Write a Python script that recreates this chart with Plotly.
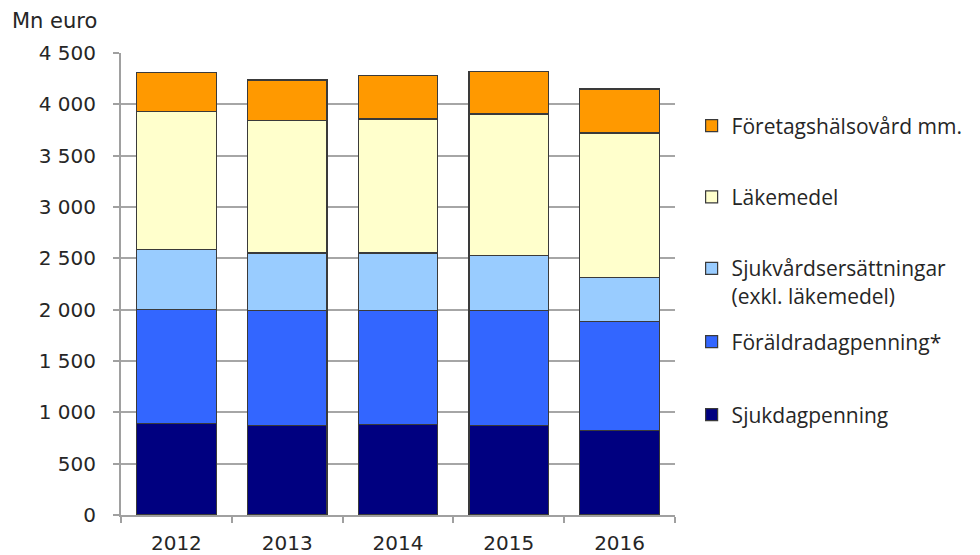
import plotly.graph_objects as go

years = ["2012", "2013", "2014", "2015", "2016"]
sjukdagpenning = [895, 869, 879, 869, 823]
foraldradagpenning = [1105, 1123, 1113, 1123, 1059]
sjukvardsersattningar = [585, 560, 560, 534, 429]
lakemedel = [1347, 1293, 1305, 1380, 1410]
foretagshalsovard = [381, 393, 423, 417, 429]

series = [
    ("Sjukdagpenning", sjukdagpenning, "#000080"),
    ("Föräldradagpenning*", foraldradagpenning, "#3366FF"),
    ("Sjukvårdsersättningar<br>(exkl. läkemedel)", sjukvardsersattningar, "#99CCFF"),
    ("Läkemedel", lakemedel, "#FFFFCC"),
    ("Företagshälsovård mm.", foretagshalsovard, "#FF9900"),
]

# legend y (paper) for each series, bottom to top
legend_y = [0.2165, 0.3745, 0.504, 0.688, 0.842]

fig = go.Figure()
for i, (name, vals, col) in enumerate(series):
    lg = "legend" if i == 0 else f"legend{i+1}"
    fig.add_trace(go.Bar(
        x=years, y=vals, name=name, legend=lg, showlegend=True,
        marker=dict(color=col, line=dict(color="#3a3a3a", width=1.2)),
    ))

legend_font = dict(family="Open Sans, Lato, sans-serif", size=21, color="#262626")
layout_legends = {}
for i, ly in enumerate(legend_y):
    key = "legend" if i == 0 else f"legend{i+1}"
    layout_legends[key] = dict(
        x=1.03, xanchor="left", y=ly, yanchor="middle",
        font=legend_font, bgcolor="rgba(0,0,0,0)", valign="top",
        itemclick=False,
    )

fig.update_layout(
    width=980, height=555,
    margin=dict(l=113, r=313, t=45, b=48),
    barmode="stack", bargap=0.28,
    plot_bgcolor="white", paper_bgcolor="white",
    separators=", ", showlegend=True,
    font=dict(family="Liberation Sans, Arial, sans-serif", color="#262626"),
    **layout_legends,
)
fig.update_yaxes(
    range=[0, 4500], dtick=500, tickformat=",d",
    showgrid=True, gridcolor="#a6a6a6", gridwidth=1.5,
    showline=True, linecolor="#a0a0a0", linewidth=2,
    ticks="outside", ticklen=6, tickcolor="#a0a0a0", tickwidth=1.5,
    tickfont=dict(size=20, family="DejaVu Sans, sans-serif", color="#262626"),
    ticklabelstandoff=13, zeroline=False, automargin=False,
)
fig.update_xaxes(
    showline=True, linecolor="#a0a0a0", linewidth=2,
    ticks="outside", ticklen=6, tickcolor="#a0a0a0", tickwidth=1.5,
    tickson="boundaries",
    tickfont=dict(size=20, family="DejaVu Sans, sans-serif", color="#262626"),
    ticklabelstandoff=9, automargin=False,
)
fig.add_annotation(
    text="Mn euro", xref="paper", yref="paper",
    x=-0.2, y=1.07, xanchor="left", yanchor="middle", showarrow=False,
    font=dict(size=21, family="DejaVu Sans, sans-serif", color="#262626"),
)

fig.write_html("out.html")
